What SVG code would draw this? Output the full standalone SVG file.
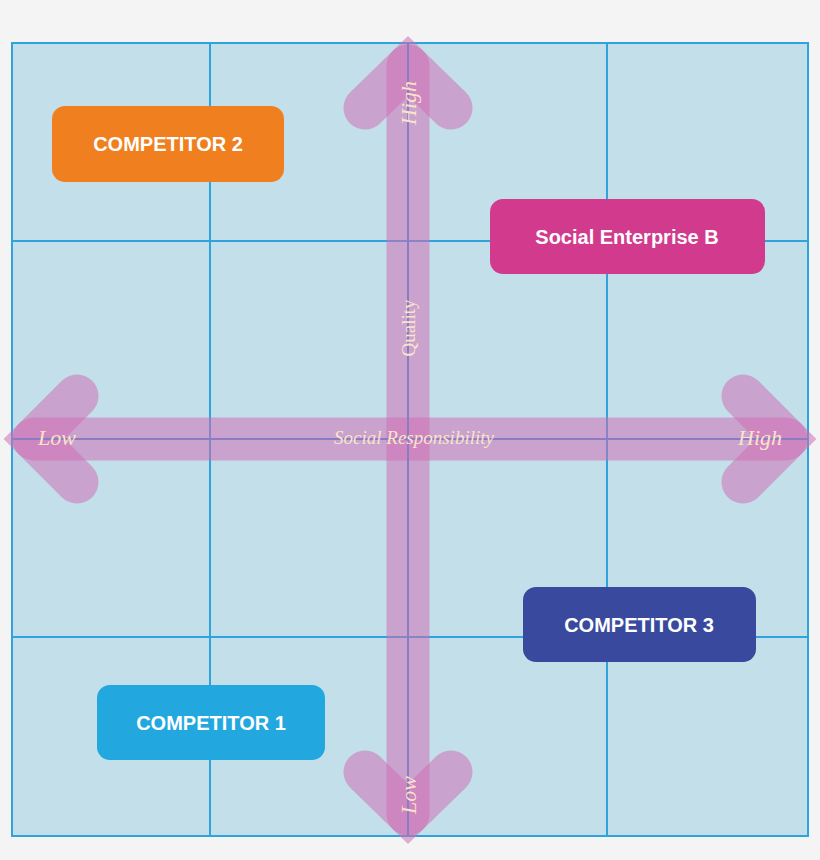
<svg xmlns="http://www.w3.org/2000/svg" width="820" height="860" viewBox="0 0 820 860">
<style>
.g{stroke:#2ea3dc;stroke-width:2;fill:none}
.a{stroke:#d070b4;stroke-opacity:0.55;stroke-width:43;stroke-linecap:round;fill:none}
.l{font-family:"Liberation Serif",serif;font-style:italic;fill:#fbe3cb}
.t{font-family:"Liberation Sans",Arial,sans-serif;font-weight:bold;font-size:20px;fill:#fff;text-anchor:middle}
</style>
<rect width="820" height="860" fill="#f4f4f4"/>
<rect x="12" y="43" width="796" height="793" fill="#c2dfea"/>
<g id="grid">
<rect class="g" x="12" y="43" width="796" height="793"/>
<path class="g" d="M210 43V836M607 43V836M12 241H808M12 637H808"/>
</g>
<g id="connectors">
<path class="a" d="M408 66V814"/>
<path class="a" d="M365 108L408 66L451 108"/>
<path class="a" d="M365 772L408 814L451 772"/>
<path class="a" d="M34 439H786"/>
<path class="a" d="M77 396L34 439L77 482"/>
<path class="a" d="M743 396L786 439L743 482"/>
<path d="M408 43V836M12 439H808" stroke="#8a7cc0" stroke-width="2"/>
<text class="l" x="38" y="445" font-size="22">Low</text>
<text class="l" x="782" y="445" font-size="22" text-anchor="end">High</text>
<text class="l" x="414" y="444" font-size="19" text-anchor="middle">Social Responsibility</text>
<text class="l" transform="translate(416,103) rotate(-90)" font-size="22" text-anchor="middle">High</text>
<text class="l" transform="translate(416,795) rotate(-90)" font-size="22" text-anchor="middle">Low</text>
<text class="l" transform="translate(415,328) rotate(-90)" font-size="19" text-anchor="middle" style="font-style:normal">Quality</text>
</g>
<g id="c2"><rect x="52" y="106" width="232" height="76" rx="13" fill="#f0801f"/><text class="t" x="168" y="151">COMPETITOR 2</text></g>
<g id="seb"><rect x="490" y="199" width="275" height="75" rx="13" fill="#d23a8e"/><text class="t" x="627" y="244">Social Enterprise B</text></g>
<g id="c3"><rect x="523" y="587" width="233" height="75" rx="13" fill="#394a9e"/><text class="t" x="639" y="632">COMPETITOR 3</text></g>
<g id="c1"><rect x="97" y="685" width="228" height="75" rx="13" fill="#23a7df"/><text class="t" x="211" y="730">COMPETITOR 1</text></g>
</svg>
